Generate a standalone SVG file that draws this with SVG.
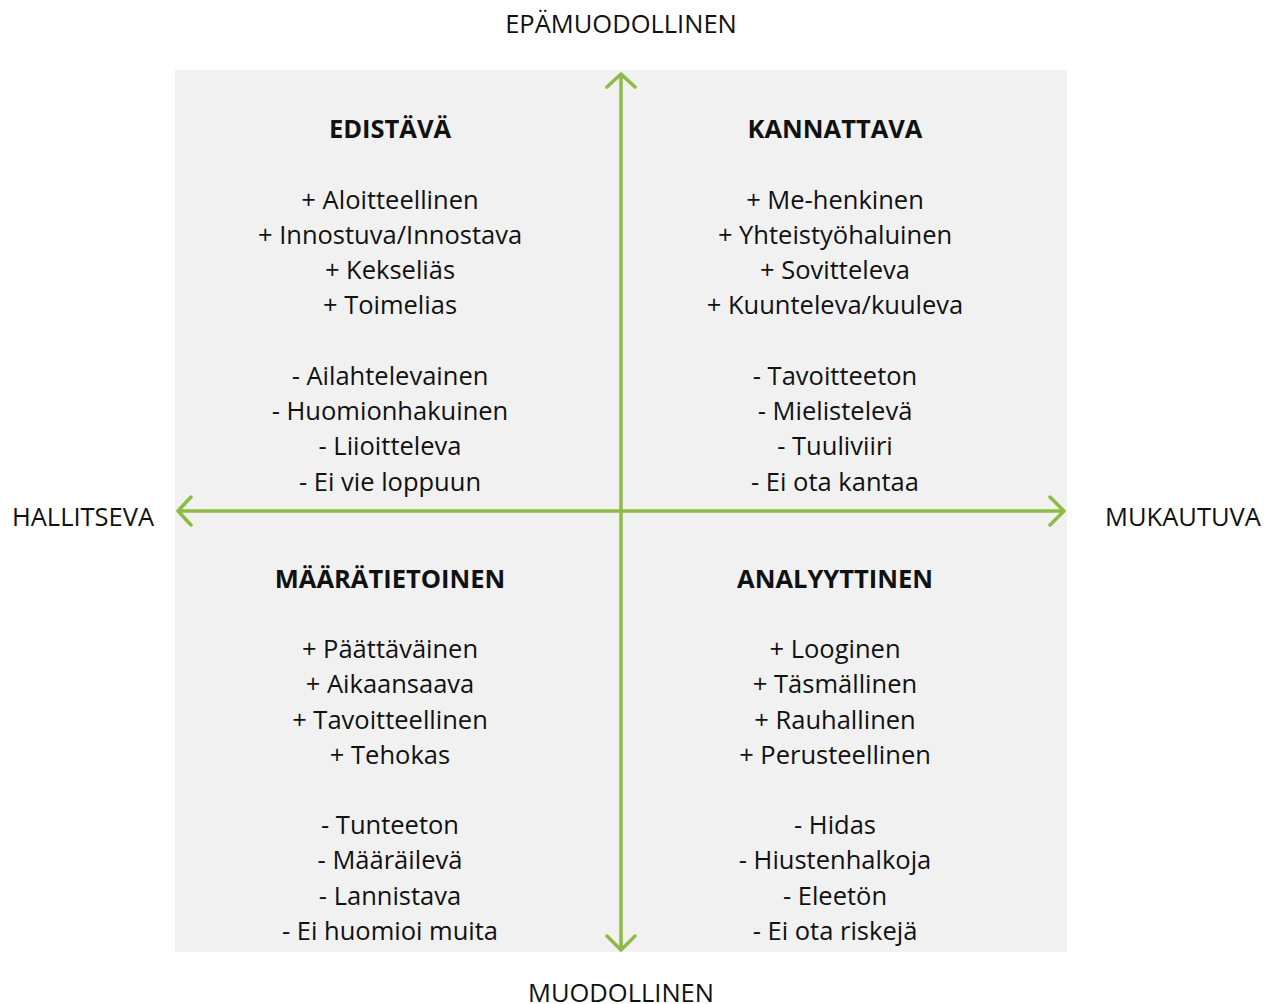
<svg xmlns="http://www.w3.org/2000/svg" width="1278" height="1004" viewBox="0 0 1278 1004">
<style>
text{font-family:"Open Sans","Liberation Sans",sans-serif;fill:#111;text-anchor:middle}
.h{font-weight:bold;font-size:25.5px}
.t{font-size:25.5px}
.ax{font-size:25.5px}
.ln{stroke:#8dbb45;stroke-width:3.5;fill:none;stroke-linecap:round;stroke-linejoin:round}
</style>
<rect x="175" y="70" width="892" height="882" fill="#f1f1f1"/>
<g id="connectors">
<path class="ln" d="M621 950V74M607 87L621 74L635 87M607 936L621 950L635 936"/>
<path class="ln" d="M178 511H1064M191 497L178 511L191 525M1050 497L1064 511L1050 525"/>
</g>
<g id="axis-top"><text class="ax" x="621" y="33">EPÄMUODOLLINEN</text></g>
<g id="axis-bottom"><text class="ax" x="621" y="1002">MUODOLLINEN</text></g>
<g id="axis-left"><text class="ax" x="83" y="526">HALLITSEVA</text></g>
<g id="axis-right"><text class="ax" x="1183" y="526">MUKAUTUVA</text></g>
<g id="q-edistava">
<text class="h" x="390" y="138">EDISTÄVÄ</text>
<text class="t" x="390" y="209">+ Aloitteellinen</text>
<text class="t" x="390" y="244">+ Innostuva/Innostava</text>
<text class="t" x="390" y="279">+ Kekseliäs</text>
<text class="t" x="390" y="314">+ Toimelias</text>
<text class="t" x="390" y="385">- Ailahtelevainen</text>
<text class="t" x="390" y="420">- Huomionhakuinen</text>
<text class="t" x="390" y="455">- Liioitteleva</text>
<text class="t" x="390" y="491">- Ei vie loppuun</text>
</g>
<g id="q-kannattava">
<text class="h" x="835" y="138">KANNATTAVA</text>
<text class="t" x="835" y="209">+ Me-henkinen</text>
<text class="t" x="835" y="244">+ Yhteistyöhaluinen</text>
<text class="t" x="835" y="279">+ Sovitteleva</text>
<text class="t" x="835" y="314">+ Kuunteleva/kuuleva</text>
<text class="t" x="835" y="385">- Tavoitteeton</text>
<text class="t" x="835" y="420">- Mielistelevä</text>
<text class="t" x="835" y="455">- Tuuliviiri</text>
<text class="t" x="835" y="491">- Ei ota kantaa</text>
</g>
<g id="q-maaratietoinen">
<text class="h" x="390" y="588">MÄÄRÄTIETOINEN</text>
<text class="t" x="390" y="658">+ Päättäväinen</text>
<text class="t" x="390" y="693">+ Aikaansaava</text>
<text class="t" x="390" y="729">+ Tavoitteellinen</text>
<text class="t" x="390" y="764">+ Tehokas</text>
<text class="t" x="390" y="834">- Tunteeton</text>
<text class="t" x="390" y="869">- Määräilevä</text>
<text class="t" x="390" y="905">- Lannistava</text>
<text class="t" x="390" y="940">- Ei huomioi muita</text>
</g>
<g id="q-analyyttinen">
<text class="h" x="835" y="588">ANALYYTTINEN</text>
<text class="t" x="835" y="658">+ Looginen</text>
<text class="t" x="835" y="693">+ Täsmällinen</text>
<text class="t" x="835" y="729">+ Rauhallinen</text>
<text class="t" x="835" y="764">+ Perusteellinen</text>
<text class="t" x="835" y="834">- Hidas</text>
<text class="t" x="835" y="869">- Hiustenhalkoja</text>
<text class="t" x="835" y="905">- Eleetön</text>
<text class="t" x="835" y="940">- Ei ota riskejä</text>
</g>
</svg>
